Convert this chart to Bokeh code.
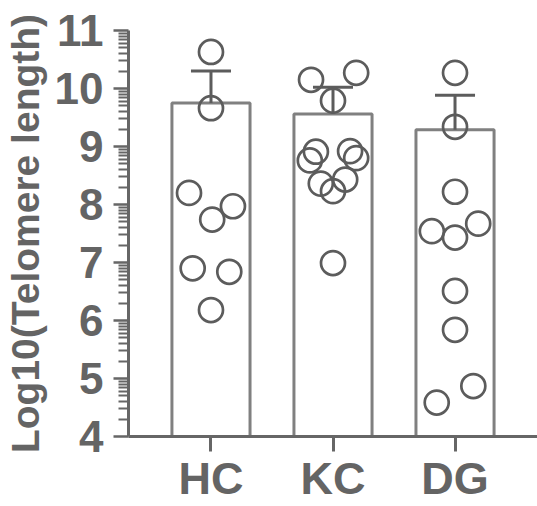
import math
from bokeh.plotting import figure
from bokeh.models import FixedTicker, ColumnDataSource, Range1d
from bokeh.embed import file_html
from bokeh.resources import INLINE

# ---- data ----
categories = ["HC", "KC", "DG"]
bar_means = [9.75, 9.56, 9.29]
error_upper = [10.30, 10.02, 9.885]

hc_values = [10.63, 9.66, 8.20, 7.74, 7.97, 6.90, 6.84, 6.18]
hc_jitter = [0.0, 0.0, -0.18, 0.01, 0.18, -0.15, 0.15, 0.0]
kc_values = [10.15, 10.27, 9.79, 8.91, 8.92, 8.76, 8.80, 8.36, 8.43, 8.23, 6.99]
kc_jitter = [-0.18, 0.19, 0.0, -0.14, 0.14, -0.19, 0.19, -0.10, 0.10, 0.0, 0.0]
dg_values = [10.27, 9.34, 8.22, 7.54, 7.43, 7.67, 6.51, 5.84, 4.87, 4.585]
dg_jitter = [0.0, 0.0, 0.0, -0.19, 0.0, 0.19, 0.0, 0.0, 0.15, -0.15]

y_ticks = [4, 5, 6, 7, 8, 9, 10, 11]
y_label = "Log10(Telomere length)"

# ---- styling ----
FONT = "Liberation Sans"
TEXT = "#646464"
AXIS = "#666666"
BAR = "#808080"
MARK = "#5c5c5c"

x_pos = [i + 1 for i in range(len(categories))]

p = figure(width=537, height=506, output_backend="svg", toolbar_location=None,
           x_range=Range1d(0.324, 3.676), y_range=Range1d(4, 11),
           min_border_left=128, min_border_right=0, min_border_top=30,
           min_border_bottom=68)
p.outline_line_color = None
p.xgrid.visible = False
p.ygrid.visible = False

# bars
bar_src = ColumnDataSource(dict(x=x_pos, top=bar_means, up=error_upper))
p.vbar(x="x", top="top", bottom=4, width=0.64, source=bar_src,
       fill_color="white", fill_alpha=0.0, line_color=BAR, line_width=3)

# error bars (upper only)
p.segment(x0="x", y0="top", x1="x", y1="up", source=bar_src,
          line_color=MARK, line_width=3)
cap_half = 0.164
p.segment(x0=[x - cap_half for x in x_pos], y0=error_upper,
          x1=[x + cap_half for x in x_pos], y1=error_upper,
          line_color=MARK, line_width=3)

# points
groups = [(hc_values, hc_jitter), (kc_values, kc_jitter), (dg_values, dg_jitter)]
for xc, (vals, jit) in zip(x_pos, groups):
    p.scatter(x=[xc + j for j in jit], y=vals, size=24, marker="circle",
              fill_color=None, line_color=MARK, line_width=2.7)

# y axis
minor = [n + math.log10(k) for n in range(4, 11) for k in range(2, 10)]
p.yaxis.ticker = FixedTicker(ticks=y_ticks, minor_ticks=minor)
p.yaxis.axis_label = y_label
p.yaxis.axis_label_text_font = FONT
p.yaxis.axis_label_text_font_style = "bold"
p.yaxis.axis_label_text_font_size = "39px"
p.yaxis.axis_label_text_color = TEXT
p.yaxis.axis_label_standoff = 5
p.yaxis.major_label_text_font = FONT
p.yaxis.major_label_text_font_style = "bold"
p.yaxis.major_label_text_font_size = "44px"
p.yaxis.major_label_text_color = TEXT
p.yaxis.major_label_standoff = 10
p.yaxis.major_tick_out = 15
p.yaxis.major_tick_in = 0
p.yaxis.minor_tick_out = 10
p.yaxis.minor_tick_in = 0
p.yaxis.axis_line_width = 3
p.yaxis.major_tick_line_width = 2.5
p.yaxis.minor_tick_line_width = 2
p.yaxis.axis_line_color = AXIS
p.yaxis.major_tick_line_color = AXIS
p.yaxis.minor_tick_line_color = AXIS

# x axis
p.xaxis.ticker = FixedTicker(ticks=x_pos, minor_ticks=[])
p.xaxis.major_label_overrides = {x: c for x, c in zip(x_pos, categories)}
p.xaxis.major_label_text_font = FONT
p.xaxis.major_label_text_font_style = "bold"
p.xaxis.major_label_text_font_size = "45px"
p.xaxis.major_label_text_color = TEXT
p.xaxis.major_label_standoff = 1
p.xaxis.major_tick_out = 15
p.xaxis.major_tick_in = 0
p.xaxis.minor_tick_line_color = None
p.xaxis.axis_line_width = 3
p.xaxis.major_tick_line_width = 3
p.xaxis.axis_line_color = AXIS
p.xaxis.major_tick_line_color = AXIS

open("out.html", "w").write(file_html(p, INLINE))
